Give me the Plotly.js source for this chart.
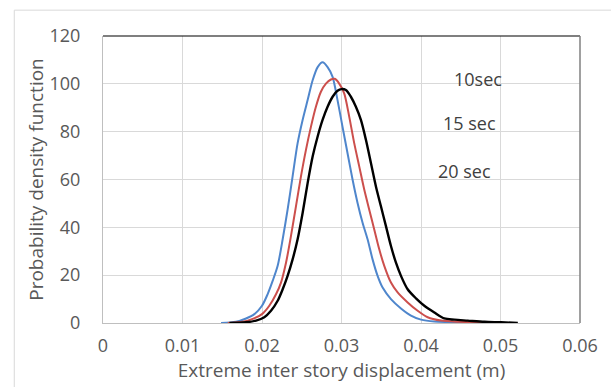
<!DOCTYPE html>
<html>
<head>
<meta charset="utf-8">
<script src="https://cdn.plot.ly/plotly-3.0.1.min.js"></script>
<style>html,body{margin:0;padding:0;background:#fff;}#chart{width:611px;height:387px;}</style>
</head>
<body>
<div id="chart"></div>
<script>
// Series: 10 sec (blue)
const x10 = [0.01485,0.01673,0.01799,0.01904,0.02,0.0207,0.02134,0.02197,0.0226,0.02322,0.02385,0.02448,0.02511,0.02574,0.02637,0.027,0.02762,0.02825,0.02888,0.0295,0.03013,0.03076,0.03139,0.03202,0.03265,0.03328,0.03391,0.03454,0.03517,0.03622,0.03748,0.03874,0.04,0.04168,0.04462,0.04714];
const y10 = [0,0.5,1.9,3.7,7.2,12,17.6,23.9,35,47.4,61.3,75.2,84.9,93.2,101.5,107,109,107,102.9,93.2,82,71,60,50.2,41.9,35,26.6,19.7,14.8,10,6.1,3.1,1.4,0.6,0.3,0];
// Series: 15 sec (red)
const x15 = [0.01569,0.01757,0.01883,0.02,0.02092,0.02176,0.02239,0.02302,0.02364,0.02427,0.0249,0.02553,0.02616,0.02678,0.02741,0.02804,0.02867,0.02915,0.02971,0.03034,0.03097,0.0316,0.03223,0.03286,0.03349,0.03412,0.03475,0.03538,0.03622,0.03706,0.03832,0.03958,0.04084,0.04252,0.04462,0.04714,0.04987];
const y15 = [0,0.5,1.7,3.7,7.2,12,16.9,25.2,36.3,48.8,61.3,72.4,82.1,90.4,96.7,100.1,101.8,102.1,100.1,96,86.3,75.2,65.5,55.8,47.4,39.1,30.8,23.9,16.9,12.8,8.6,5.1,2.4,1.0,0.5,0.3,0];
// Series: 20 sec (black)
const x20 = [0.0159,0.01799,0.01925,0.02029,0.02113,0.02197,0.0226,0.02322,0.02385,0.02448,0.02511,0.02574,0.02637,0.027,0.02762,0.02825,0.02888,0.0295,0.03,0.03055,0.03118,0.03181,0.03244,0.03307,0.0337,0.03433,0.03496,0.03559,0.03622,0.03685,0.03748,0.03832,0.03937,0.04042,0.04168,0.04294,0.0442,0.04588,0.04798,0.05008,0.05218];
const y20 = [0,0.3,1.0,2.4,5.1,9.3,14.1,19.7,26.6,35,46,58.5,69.6,78,84.9,90.4,94.6,97.1,97.8,97.4,94.6,90.4,84.9,76.6,66.9,57.1,48.8,40.5,32.2,25.2,19.7,14.1,10.3,7.2,4.4,1.9,1.4,1.0,0.5,0.3,0];

const labelText = ['10sec','15 sec','20 sec'];
const labelX = [0.04717,0.04604,0.04541];
const labelY = [102.2,83.5,63.5];

const xTicks = [0,0.01,0.02,0.03,0.04,0.05,0.06];
const xTickText = ['0','0.01','0.02','0.03','0.04','0.05','0.06'];
const yTicks = [0,20,40,60,80,100,120];

const FONT = 'Open Sans, Liberation Sans, sans-serif';

const traces = [
  {x:x10, y:y10, mode:'lines', line:{color:'#4F86CC', width:2, shape:'spline', smoothing:0.8}, name:'10sec'},
  {x:x15, y:y15, mode:'lines', line:{color:'#CC4F4C', width:2, shape:'spline', smoothing:0.8}, name:'15 sec'},
  {x:x20, y:y20, mode:'lines', line:{color:'#000000', width:2.4, shape:'spline', smoothing:0.8}, name:'20 sec'}
];

const layout = {
  width:611, height:387,
  margin:{l:103, r:31, t:36, b:64, pad:0},
  paper_bgcolor:'#ffffff', plot_bgcolor:'#ffffff',
  showlegend:false,
  font:{family:FONT, color:'#595959', size:18},
  xaxis:{
    range:[0,0.06], tickvals:xTicks, ticktext:xTickText,
    showgrid:true, gridcolor:'#D9D9D9', gridwidth:1,
    zeroline:false, showline:true, linecolor:'#BFBFBF', linewidth:1,
    ticks:'', ticklabelstandoff:6,
    tickfont:{family:FONT, size:18, color:'#595959'},
    title:{text:'Extreme inter story displacement (m)', font:{family:FONT, size:19, color:'#595959'}, standoff:7}
  },
  yaxis:{
    range:[0,120], tickvals:yTicks,
    showgrid:true, gridcolor:'#D9D9D9', gridwidth:1,
    zeroline:false, showline:true, linecolor:'#BFBFBF', linewidth:1,
    ticks:'', ticklabelstandoff:18,
    tickfont:{family:FONT, size:18, color:'#595959'},
    title:{text:'Probability density function', font:{family:FONT, size:19, color:'#595959'}, standoff:0}
  },
  annotations: labelText.map((t,i)=>({x:labelX[i], y:labelY[i], xref:'x', yref:'y', text:t, showarrow:false, font:{family:FONT, size:18, color:'#404040'}})),
  shapes:[
    {type:'line', xref:'paper', yref:'paper', x0:0, x1:1, y0:1, y1:1, line:{color:'#000000', width:1.2}},
    {type:'line', xref:'paper', yref:'paper', x0:1, x1:1, y0:0, y1:1, line:{color:'#808080', width:1.5}},
    {type:'rect', xref:'paper', yref:'paper', x0:-0.186, x1:1.3, y0:-0.4, y1:1.09, line:{color:'#D9D9D9', width:1}, fillcolor:'rgba(0,0,0,0)'}
  ]
};

Plotly.newPlot('chart', traces, layout, {staticPlot:true, displayModeBar:false});
</script>
</body>
</html>
